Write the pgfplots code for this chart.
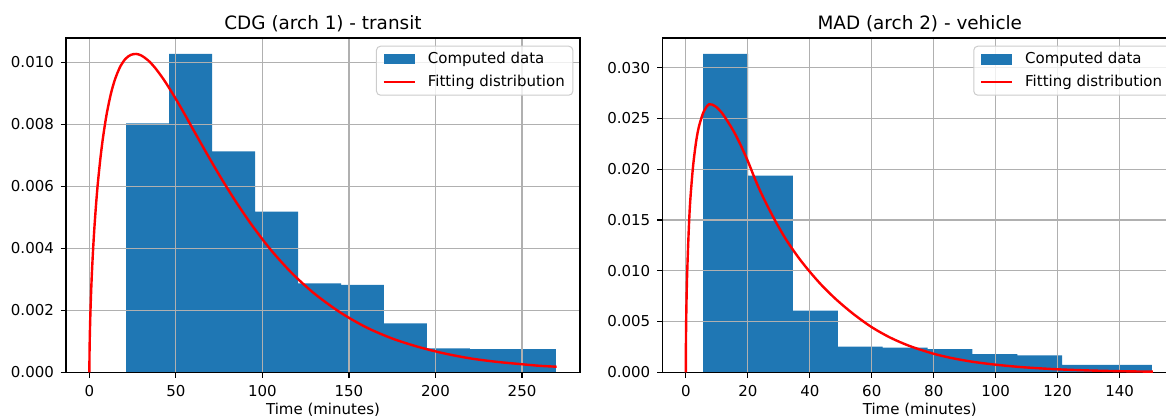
\documentclass[border=0pt]{standalone}
\usepackage{fontspec}
\setmainfont{DejaVu Sans}
\usepackage{pgfplots}
\pgfplotsset{compat=1.18}
\definecolor{mplblue}{HTML}{1F77B4}
\definecolor{gridgray}{HTML}{B0B0B0}
\definecolor{leggray}{HTML}{CCCCCC}
\pgfplotsset{
  myaxis/.style={
    set layers,
    scale only axis,
    height=167.15pt,
    anchor=south west,
    axis line style={black, line width=0.6pt},
    grid=major,
    major grid style={gridgray, line width=0.6pt},
    tick align=outside,
    tick pos=left,
    major tick length=2.65pt,
    every tick/.style={black, line width=0.6pt},
    ymin=0,
    tick label style={font=\fontsize{7.5}{9}\selectfont},
    /pgf/number format/assume math mode=true,
    scaled y ticks=false,
    yticklabel style={/pgf/number format/fixed, /pgf/number format/fixed zerofill, /pgf/number format/precision=3},
    xticklabel style={anchor=north, inner sep=0pt, yshift=-3.7pt},
    yticklabel style={anchor=east, inner sep=0pt, xshift=-3.2pt},
    xlabel style={at={(axis description cs:0.5,0)}, anchor=north, inner sep=0pt, yshift=-15.3pt, font=\fontsize{7.5}{9}\selectfont},
    every axis title/.style={at={(axis description cs:0.5,1)}, anchor=base, yshift=4.2pt, inner sep=0pt, font=\fontsize{9.2}{11}\selectfont},
    legend cell align=left,
    legend style={at={(axis description cs:1,1)}, anchor=north east, xshift=-3.35pt, yshift=-3.85pt,
      draw=leggray, line width=0.5pt, fill=white, fill opacity=0.8, text opacity=1, rounded corners=2pt,
      font=\fontsize{7.5}{9}\selectfont, inner xsep=3pt, inner ysep=1.75pt, row sep=2pt, column sep=5pt,
      nodes={inner sep=1pt, text height=6pt, text depth=1.5pt}},
  },
  histstyle/.style={const plot, fill=mplblue, draw=none, on layer=axis background,
    legend image code/.code={\fill[mplblue, sharp corners, fill opacity=1] (0pt,-2.65pt) rectangle (15.5pt,2.65pt);}},
  fitstyle/.style={red, line width=1.2pt, smooth, tension=0.5,
    legend image code/.code={\draw[red, sharp corners, draw opacity=1, line width=1.2pt] (0pt,0pt) -- (15.5pt,0pt);}},
}
\begin{document}
\begin{tikzpicture}
\begin{axis}[myaxis, at={(33pt,22.85pt)}, width=257pt,
  xmin=-13.5, xmax=283.5, ymax=0.010784,
  xtick={0,50,100,150,200,250},
  ytick={0,0.002,0.004,0.006,0.008,0.010},
  xlabel={Time (minutes)},
  title={CDG (arch 1) - transit}]
\addplot[histstyle] coordinates {
(21.2,0.00803) (46.04,0.01027) (70.88,0.00713) (95.72,0.00518) (120.56,0.00287)
(145.4,0.00282) (170.24,0.00158) (195.08,0.00077) (219.92,0.00075) (244.76,0.00075) (269.6,0.00075)
} \closedcycle;
\addlegendentry{Computed data}
\addplot[fitstyle] coordinates {
(0,0) (0.1,0.00066) (0.3,0.00127) (0.6,0.00191) (1,0.00257) (1.5,0.00324) (2.2,0.00401)
(3,0.00474) (4,0.00551) (5,0.00616) (6.5,0.00696) (8,0.00762) (10,0.00833) (12.5,0.00900)
(15,0.00948) (18,0.00988) (21,0.01012) (24,0.01024) (27,0.01027) (30,0.01022) (34,0.01006)
(38,0.00982) (43,0.00944) (48,0.00900) (54,0.00843) (60,0.00783) (67,0.00714) (75,0.00637)
(84,0.00556) (94,0.00474) (105,0.00394) (117,0.00320) (130,0.00254) (145,0.00193)
(160,0.00145) (175,0.00109) (190,0.00082) (205,0.00061) (220,0.00045) (235,0.00034)
(250,0.00026) (260,0.00021) (270,0.00018)
};
\addlegendentry{Fitting distribution}
\end{axis}
\begin{axis}[myaxis, at={(331.15pt,22.85pt)}, width=257.5pt,
  xmin=-7.6, xmax=158.6, ymax=0.032925,
  xtick={0,20,40,60,80,100,120,140},
  ytick={0,0.005,0.010,0.015,0.020,0.025,0.030},
  xlabel={Time (minutes)},
  title={MAD (arch 2) - vehicle}]
\addplot[histstyle] coordinates {
(5.6,0.03135) (20.08,0.01936) (34.56,0.00607) (49.04,0.00252) (63.52,0.00242)
(78.0,0.00229) (92.48,0.00178) (106.96,0.00166) (121.44,0.00072) (135.92,0.00072) (150.4,0.00072)
} \closedcycle;
\addlegendentry{Computed data}
\addplot[fitstyle] coordinates {
(0,0) (0.02,0.0025) (0.1,0.0050) (0.25,0.0076) (0.42,0.0097) (0.8,0.0130) (1.29,0.0163)
(2.0,0.0192) (2.58,0.0210) (3.4,0.0229) (4.3,0.0243) (5.8,0.0257) (7.5,0.0264) (9.5,0.0262)
(11.5,0.0256) (13.5,0.0247) (15.5,0.0237) (17.5,0.0225) (20,0.0208) (22.5,0.0189) (25,0.0172)
(28.7,0.0150) (32.5,0.0130) (36.5,0.01124) (40,0.0099) (44,0.00852) (48.6,0.00715) (54,0.00576)
(59.9,0.00446) (66,0.00341) (72.3,0.00258) (79.8,0.00184) (86,0.00139) (92.7,0.00103)
(100,0.00075) (108.8,0.00050) (119.6,0.00030) (130.3,0.00018) (140,0.00011) (150.7,0.00006)
};
\addlegendentry{Fitting distribution}
\end{axis}
\pgfresetboundingbox
\useasboundingbox (0,0) rectangle (583pt,209pt);
\end{tikzpicture}
\end{document}
